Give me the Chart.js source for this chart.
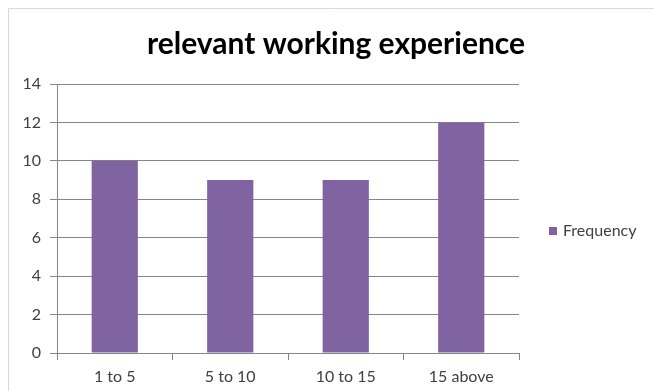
<!DOCTYPE html>
<html>
<head>
<meta charset="utf-8">
<script src="https://cdn.jsdelivr.net/npm/chart.js@4/dist/chart.umd.min.js"></script>
<style>
  html, body { margin: 0; padding: 0; background: #fff; }
  #wrap { position: relative; width: 654px; height: 391px; }
</style>
</head>
<body>
<div id="wrap"><canvas id="expChart" width="654" height="391"></canvas></div>
<script>
var chartTitle = 'relevant working experience';
var seriesName = 'Frequency';
var categories = ['1 to 5', '5 to 10', '10 to 15', '15 above'];
var frequency = [10, 9, 9, 12];
var yTicks = [0, 2, 4, 6, 8, 10, 12, 14];

var barColor = '#8064A2';
var gridColor = '#868686';
var textColor = '#404040';
var fontName = 'Lato, "Open Sans", sans-serif';

// frame, title and legend are painted by hand, Excel style
var decorations = {
  id: 'decorations',
  beforeDraw: function(chart) {
    var ctx = chart.ctx;
    ctx.save();
    ctx.strokeStyle = '#d9d9d9';
    ctx.lineWidth = 1;
    ctx.beginPath();
    ctx.moveTo(8.5, 400);
    ctx.lineTo(8.5, 8.5);
    ctx.lineTo(660, 8.5);
    ctx.stroke();
    ctx.restore();
  },
  afterDraw: function(chart) {
    var ctx = chart.ctx;
    ctx.save();
    ctx.fillStyle = '#000';
    ctx.font = 'bold 30px ' + fontName;
    ctx.textAlign = 'center';
    ctx.textBaseline = 'middle';
    ctx.fillText(chartTitle, 336, 44);

    var ds = chart.data.datasets[0];
    ctx.fillStyle = ds.backgroundColor;
    ctx.fillRect(549, 227, 8, 8);
    ctx.fillStyle = textColor;
    ctx.font = '16px ' + fontName;
    ctx.textAlign = 'left';
    ctx.fillText(ds.label, 563, 231);
    ctx.restore();
  }
};

new Chart(document.getElementById('expChart'), {
  type: 'bar',
  data: {
    labels: categories,
    datasets: [{
      label: seriesName,
      data: frequency,
      backgroundColor: barColor,
      borderWidth: 0,
      categoryPercentage: 1,
      barPercentage: 0.4
    }]
  },
  plugins: [decorations],
  options: {
    responsive: false,
    animation: false,
    layout: { padding: { left: 0, right: 135, top: 84, bottom: 0 } },
    plugins: {
      legend: { display: false },
      title: { display: false },
      tooltip: { enabled: false }
    },
    scales: {
      x: {
        afterFit: function(scale) { scale.height = 38; },
        grid: {
          drawOnChartArea: false,
          drawTicks: true,
          tickLength: 7,
          color: gridColor
        },
        border: { color: gridColor },
        ticks: {
          color: textColor,
          font: { family: fontName, size: 16 },
          padding: 7
        }
      },
      y: {
        min: 0,
        max: 14,
        afterFit: function(scale) { scale.width = 57; },
        afterBuildTicks: function(scale) {
          scale.ticks = yTicks.map(function(v) { return { value: v }; });
        },
        grid: {
          color: gridColor,
          tickLength: 7
        },
        border: { color: gridColor },
        ticks: {
          color: textColor,
          font: { family: fontName, size: 16 },
          padding: 9
        }
      }
    }
  }
});
</script>
</body>
</html>
